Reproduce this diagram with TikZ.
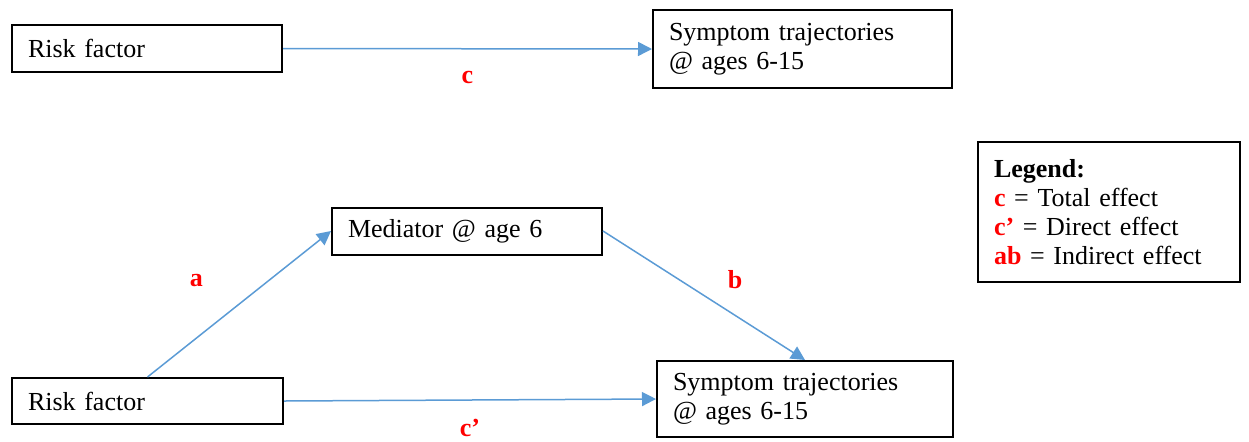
\documentclass[tikz,border=0pt]{standalone}
\usepackage{fontspec}
\setmainfont{Liberation Serif}
\usetikzlibrary{arrows.meta, positioning}
\definecolor{pathblue}{HTML}{5B9BD5}
\definecolor{effred}{HTML}{FF0000}
\newcommand{\diagfont}{\fontsize{13}{14.6}\selectfont}

\begin{document}
\begin{tikzpicture}[
  x=0.5pt, y=-0.5pt,
  >={Triangle[length=7pt, width=7pt]},
  vbox/.style={
    draw=black, line width=1pt, align=left, inner xsep=8pt,
    text width=#1, font=\diagfont, text=black
  },
  arr/.style={->, line width=0.75pt, pathblue},
  lbl/.style={font=\diagfont\bfseries, text=effred},
]

% Page frame
\useasboundingbox (0,0) rectangle (1249,441);

% =============================================
% Top model: total effect
% =============================================

\node[vbox=119pt, minimum height=23.5pt] (risktop) at (147,48.5)
  {Risk factor};

\node[vbox=133.5pt, minimum height=39pt] (symtop) at (802.5,49)
  {Symptom trajectories\\@ ages 6-15};

% Risk factor -> Symptoms: c
\draw[arr] (risktop.east) -- (symtop.west)
  node[midway, lbl, yshift=-14.5pt] {c};

% =============================================
% Bottom model: mediation
% =============================================

\node[vbox=119pt, minimum height=23.5pt] (mediator) at (467,231)
  {Mediator @ age 6};

\node[vbox=119.5pt, minimum height=23pt] (riskbot) at (147.5,401)
  {Risk factor};

\node[vbox=132pt, minimum height=38pt] (symbot) at (805,399)
  {Symptom trajectories\\@ ages 6-15};

% Risk factor -> Mediator: a
\draw[arr] (riskbot.north) -- (mediator.west)
  node[midway, lbl, xshift=-21.5pt, yshift=11.5pt] {a};

% Mediator -> Symptoms: b
\draw[arr] (mediator.east) -- (symbot.north)
  node[midway, lbl, xshift=15.5pt, yshift=8pt] {b};

% Risk factor -> Symptoms: c'
\draw[arr] (riskbot.east) -- (symbot.west)
  node[midway, lbl, yshift=-14pt] {c'};

% =============================================
% Legend
% =============================================
\node[vbox=115pt, minimum height=70pt] (legend) at (1109,212)
  {\textbf{Legend:}\\
   \textcolor{effred}{\textbf{c}} = Total effect\\
   \textcolor{effred}{\textbf{c'}} = Direct effect\\
   \textcolor{effred}{\textbf{ab}} = Indirect effect};

\end{tikzpicture}
\end{document}
